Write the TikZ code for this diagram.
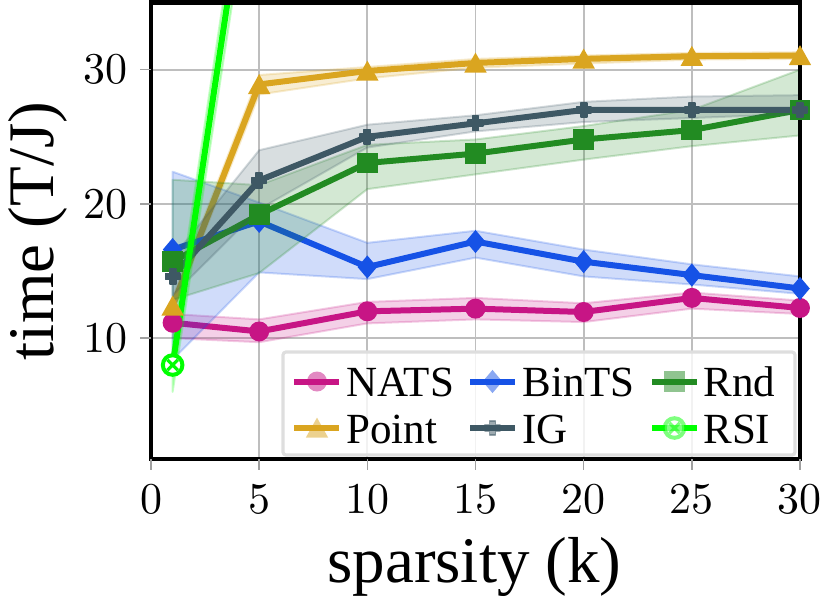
\documentclass[tikz,border=0pt]{standalone}
\usepackage{fontspec}
\newfontfamily\timesf{Liberation Serif}
\newfontfamily\lmf{lmroman10-regular.otf}
\definecolor{natsc}{RGB}{199,21,133}
\definecolor{pointc}{RGB}{218,165,32}
\definecolor{bintsc}{RGB}{22,82,230}
\definecolor{igc}{RGB}{62,88,100}
\definecolor{rndc}{RGB}{34,139,34}
\definecolor{rsic}{RGB}{0,255,0}
\definecolor{gridc}{RGB}{190,190,190}
\definecolor{tickc}{RGB}{160,160,160}
\definecolor{legedge}{RGB}{222,222,222}
\begin{document}
\begin{tikzpicture}[x=0.5pt,y=-0.5pt,
  ticklab/.style={font={\lmf\fontsize{22}{26}\selectfont}, inner sep=0pt},
  leglab/.style={font={\timesf\fontsize{21.5}{25}\selectfont}, inner sep=0pt, anchor=base west},
  axlab/.style={font={\timesf\fontsize{32.5}{38}\selectfont}, inner sep=0pt, anchor=base},
  dline/.style={draw=#1, line width=3pt, line join=round},
  band/.style={fill=#1, fill opacity=0.2, draw=#1, draw opacity=0.22, line width=1pt, line join=round},
  gridln/.style={draw=gridc, line width=0.9pt},
  tickln/.style={draw=tickc, line width=0.75pt},
  pics/mkcirc/.style={code={\fill[#1] (0,0) circle[radius=5pt];}},
  pics/mktri/.style={code={\fill[#1] (0pt,5.2pt) -- (-5.6pt,-4.8pt) -- (5.6pt,-4.8pt) -- cycle;}},
  pics/mksq/.style={code={\fill[#1] (-5.2pt,-5.2pt) rectangle (5.2pt,5.2pt);}},
  pics/mkdia/.style={code={\fill[#1] (0pt,5.8pt) -- (-4.9pt,0pt) -- (0pt,-5.8pt) -- (4.9pt,0pt) -- cycle;}},
  pics/mkplus/.style={code={\filldraw[#1, line width=0.9pt, line join=round]
     (-1.5pt,3.6pt) -- (1.5pt,3.6pt) -- (1.5pt,1.5pt) -- (3.6pt,1.5pt) -- (3.6pt,-1.5pt) -- (1.5pt,-1.5pt)
     -- (1.5pt,-3.6pt) -- (-1.5pt,-3.6pt) -- (-1.5pt,-1.5pt) -- (-3.6pt,-1.5pt) -- (-3.6pt,1.5pt) -- (-1.5pt,1.5pt) -- cycle;}},
  pics/mkrsi/.style={code={\begin{scope}[opacity=#1]
     \filldraw[fill=white, draw=rsic, line width=2pt] (0,0) circle[radius=4.9pt];
     \draw[rsic, line width=1.6pt] (-2.6pt,-2.6pt) -- (2.6pt,2.6pt) (-2.6pt,2.6pt) -- (2.6pt,-2.6pt);
     \end{scope}}},
]
\useasboundingbox (0,0) rectangle (830,601);

\begin{scope}[shift={(75.5pt,-236.215pt)}, x=10.8165pt, y=6.713pt]
  % grid
  \foreach \gx in {5,10,15,20,25} \draw[gridln] (\gx,1) -- (\gx,35);
  \foreach \gy in {10,20,30} \draw[gridln] (0,\gy) -- (30,\gy);
  \begin{scope}
    \clip (0,1) rectangle (30,35);
    % NATS
    \path[band=natsc] (1,11.8)--(5,11.4)--(10,12.7)--(15,13.0)--(20,12.6)--(25,13.4)--(30,12.8)--(30,11.8)--(25,12.2)--(20,11.2)--(15,11.4)--(10,11.1)--(5,9.7)--(1,10.0)--cycle;
    \draw[dline=natsc] (1,11.15)--(5,10.5)--(10,12.0)--(15,12.2)--(20,11.95)--(25,13.0)--(30,12.25);
    % Point
    \path[band=pointc] (1,13.0)--(5,29.6)--(10,30.2)--(15,30.8)--(20,31.05)--(25,31.25)--(30,31.3)--(30,30.8)--(25,30.75)--(20,30.45)--(15,30.15)--(10,29.35)--(5,28.15)--(1,11.9)--cycle;
    \draw[dline=pointc] (1,12.4)--(5,28.9)--(10,29.9)--(15,30.5)--(20,30.8)--(25,31.0)--(30,31.05);
    % BinTS
    \path[band=bintsc] (1,22.4)--(5,20.1)--(10,17.1)--(15,18.0)--(20,16.6)--(25,15.5)--(30,14.6)--(30,13.3)--(25,14.0)--(20,14.6)--(15,16.0)--(10,14.4)--(5,14.9)--(1,8.4)--cycle;
    \draw[dline=bintsc] (1,16.6)--(5,18.7)--(10,15.3)--(15,17.2)--(20,15.7)--(25,14.7)--(30,13.7);
    % Rnd
    \path[band=rndc] (1,21.8)--(5,21.4)--(10,24.4)--(15,24.8)--(20,25.8)--(25,27.0)--(30,30.0)--(30,25.1)--(25,24.3)--(20,23.3)--(15,22.2)--(10,21.1)--(5,14.85)--(1,12.85)--cycle;
    \draw[dline=rndc] (1,15.7)--(5,19.2)--(10,23.05)--(15,23.75)--(20,24.8)--(25,25.5)--(30,27.0);
    % IG
    \path[band=igc] (1,16.0)--(5,24.0)--(10,25.9)--(15,26.6)--(20,27.6)--(25,28.0)--(30,28.1)--(30,26.7)--(25,26.4)--(20,26.1)--(15,25.4)--(10,24.2)--(5,19.6)--(1,13.2)--cycle;
    \draw[dline=igc] (1,14.6)--(5,21.75)--(10,25.0)--(15,26.0)--(20,27.0)--(25,27.0)--(30,27.0);
    % RSI
    \path[band=rsic] (1,10.0)--(5,53)--(5,48)--(1,6.0)--cycle;
    \draw[dline=rsic] (1,8.0)--(5,50.6);
  \end{scope}
  % frame
  \draw[line width=2.25pt] (0,1) rectangle (30,35);
  % ticks
  \foreach \gx in {0,5,10,15,20,25,30} \draw[tickln] (\gx,1) -- ++(0,-5.5pt);
  \foreach \gy in {10,20,30} \draw[tickln] (0,\gy) -- ++(-5.5pt,0);
  % markers
  \foreach \mx/\my in {1/11.15,5/10.5,10/12.0,15/12.2,20/11.95,25/13.0,30/12.25} \pic at (\mx,\my) {mkcirc=natsc};
  \foreach \mx/\my in {1/12.4,5/28.9,10/29.9,15/30.5,20/30.8,25/31.0,30/31.05} \pic at (\mx,\my) {mktri=pointc};
  \foreach \mx/\my in {1/16.6,5/18.7,10/15.3,15/17.2,20/15.7,25/14.7,30/13.7} \pic at (\mx,\my) {mkdia=bintsc};
  \foreach \mx/\my in {1/15.7,5/19.2,10/23.05,15/23.75,20/24.8,25/25.5,30/27.0} \pic at (\mx,\my) {mksq=rndc};
  \foreach \mx/\my in {1/14.6,5/21.75,10/25.0,15/26.0,20/27.0,25/27.0,30/27.0} \pic at (\mx,\my) {mkplus=igc};
  \pic at (1,8.0) {mkrsi=1};
\end{scope}

% legend
\draw[draw=legedge, line width=1.6pt, fill=white, fill opacity=0.8, rounded corners=1.5pt] (283,352) rectangle (795,455);
\draw[dline=natsc] (294,381.5) -- (339,381.5);
\pic at (317,381.5) {mkcirc={natsc,opacity=0.5}};
\node[leglab] (lgnats) at (346,396) {NATS};
\draw[dline=pointc] (294,428) -- (339,428);
\pic at (317,428) {mktri={pointc,opacity=0.5}};
\node[leglab] (lgpoint) at (346,443) {Point};
\draw[dline=bintsc] (470,381.5) -- (515,381.5);
\pic at (492.5,381.5) {mkdia={bintsc,opacity=0.5}};
\node[leglab] (lgbints) at (522,396) {BinTS};
\draw[dline=igc] (470,428) -- (515,428);
\pic at (492.5,428) {mkplus={igc,opacity=0.5}};
\node[leglab] (lgig) at (522,443) {IG};
\draw[dline=rndc] (652,381.5) -- (697,381.5);
\pic at (674.5,381.5) {mksq={rndc,opacity=0.5}};
\node[leglab] (lgrnd) at (703,396) {Rnd};
\draw[dline=rsic] (652,428) -- (697,428);
\pic at (674.5,428) {mkrsi=0.5};
\node[leglab] (lgrsi) at (703,443) {RSI};

% tick labels
\foreach \k in {0,5,10,15,20,25,30}
  \node[ticklab, anchor=base] (xt\k) at ({151+21.633*\k},513) {\k};
\foreach \v in {10,20,30}
  \node[ticklab, anchor=east] (yt\v) at (128,{472.43-13.426*\v}) {\v};

% axis labels
\node[axlab] (xlab) at (474.5,582) {sparsity (k)};
\node[axlab, rotate=90] (ylab) at (53.3,231) {time (T/J)};
\end{tikzpicture}
\end{document}
